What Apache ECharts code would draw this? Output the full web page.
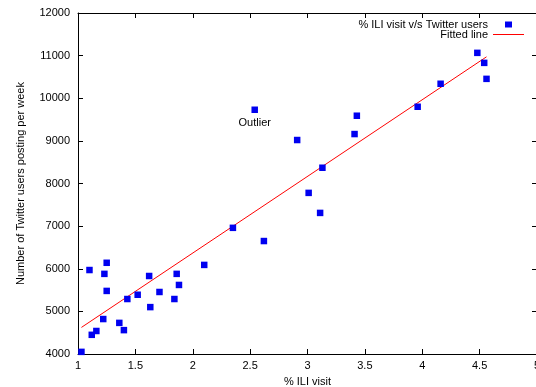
<!DOCTYPE html>
<html>
<head>
<meta charset="utf-8">
<script src="https://cdn.jsdelivr.net/npm/echarts@6/dist/echarts.min.js"></script>
<style>
  html, body { margin: 0; padding: 0; background: #fff; }
  #chart { width: 536px; height: 387px; }
</style>
</head>
<body>
<div id="chart"></div>
<script>
  // % ILI visit (x) and twitter users per week (y)
  const iliVisit = [1.03, 1.10, 1.12, 1.16, 1.22, 1.23, 1.25, 1.25, 1.36, 1.40, 1.43,
    1.52, 1.62, 1.63, 1.71, 1.84, 1.86, 1.88, 2.10, 2.35, 2.54, 2.62, 2.91,
    3.01, 3.11, 3.13, 3.41, 3.43, 3.96, 4.16, 4.48, 4.54, 4.56]
  const twitterUsers = [4050, 5970, 4450, 4540, 4820, 5880, 6140, 5480, 4730, 4560, 5290,
    5390, 5830, 5100, 5455, 5290, 5880, 5620, 6090, 6960, 9730, 6650, 9020,
    7780, 7310, 8370, 9160, 9590, 9800, 10340, 11065, 10830, 10455]
  // fitted line end points
  const fitX = [1.03, 4.56]
  const fitY = [4624, 10972]
  const outlierIndex = 20

  const font = 'Liberation Sans'

  const pointData = iliVisit.map(function (x, i) {
    const item = { value: [x, twitterUsers[i]] }
    if (i === outlierIndex) {
      item.label = {
        show: true,
        position: 'bottom',
        distance: 4,
        formatter: 'Outlier',
        color: '#000',
        fontSize: 11,
        fontFamily: font
      }
    }
    return item
  })
  const lineData = fitX.map(function (x, i) { return [x, fitY[i]] })

  const chart = echarts.init(document.getElementById('chart'))

  const tickInside = { show: true, inside: true, length: 5, lineStyle: { color: '#000' } }
  const axisLine = { show: true, onZero: false, lineStyle: { color: '#000', width: 1 } }

  // legend icons: small square / thin line centred in a 31x7 box
  const squareIcon = 'path://M0,0M31,7M12,0.5L19,0.5L19,6.5L12,6.5Z'
  const lineIcon = 'path://M0,0M31,7M0,3L31,3L31,4L0,4Z'

  const option = {
    animation: false,
    textStyle: { fontFamily: font },
    grid: { left: 78, right: -1, top: 13, bottom: 33, outerBoundsMode: 'none', containLabel: false },
    legend: {
      orient: 'vertical',
      align: 'right',
      right: 12,
      top: 19,
      padding: 0,
      itemWidth: 31,
      itemHeight: 7,
      itemGap: -1,
      textStyle: { color: '#000', fontSize: 11, fontFamily: font },
      data: [
        { name: '% ILI visit v/s Twitter users', icon: squareIcon, itemStyle: { borderWidth: 0 } },
        { name: 'Fitted line', icon: lineIcon, itemStyle: { borderWidth: 0 } }
      ]
    },
    xAxis: [
      {
        type: 'value',
        min: 1,
        max: 5,
        interval: 0.5,
        name: '% ILI visit',
        nameLocation: 'middle',
        nameGap: 22,
        nameTextStyle: { color: '#000', fontSize: 11, fontFamily: font },
        axisLine: axisLine,
        axisTick: tickInside,
        axisLabel: { color: '#000', fontSize: 11, margin: 6, fontFamily: font },
        splitLine: { show: false }
      },
      {
        type: 'value',
        position: 'top',
        min: 1,
        max: 5,
        interval: 0.5,
        axisLine: axisLine,
        axisTick: tickInside,
        axisLabel: { show: false },
        splitLine: { show: false }
      }
    ],
    yAxis: [
      {
        type: 'value',
        min: 4000,
        max: 12000,
        interval: 1000,
        name: 'Number of Twitter users posting per week',
        nameLocation: 'middle',
        nameGap: 52,
        nameTextStyle: { color: '#000', fontSize: 11, fontFamily: font },
        axisLine: axisLine,
        axisTick: tickInside,
        axisLabel: {
          color: '#000', fontSize: 11, margin: 8, fontFamily: font,
          formatter: function (v) { return String(v) }
        },
        splitLine: { show: false }
      },
      {
        type: 'value',
        position: 'right',
        min: 4000,
        max: 12000,
        interval: 1000,
        axisLine: axisLine,
        axisTick: tickInside,
        axisLabel: { show: false },
        splitLine: { show: false }
      }
    ],
    series: [
      {
        name: '% ILI visit v/s Twitter users',
        type: 'scatter',
        symbol: 'rect',
        symbolSize: 6.5,
        itemStyle: { color: '#0000f0', opacity: 1 },
        data: pointData,
        z: 3
      },
      {
        name: 'Fitted line',
        type: 'line',
        showSymbol: false,
        symbol: 'none',
        lineStyle: { color: '#ff0000', width: 1 },
        itemStyle: { color: '#ff0000' },
        data: lineData,
        z: 2
      }
    ]
  }

  chart.setOption(option)
</script>
</body>
</html>
